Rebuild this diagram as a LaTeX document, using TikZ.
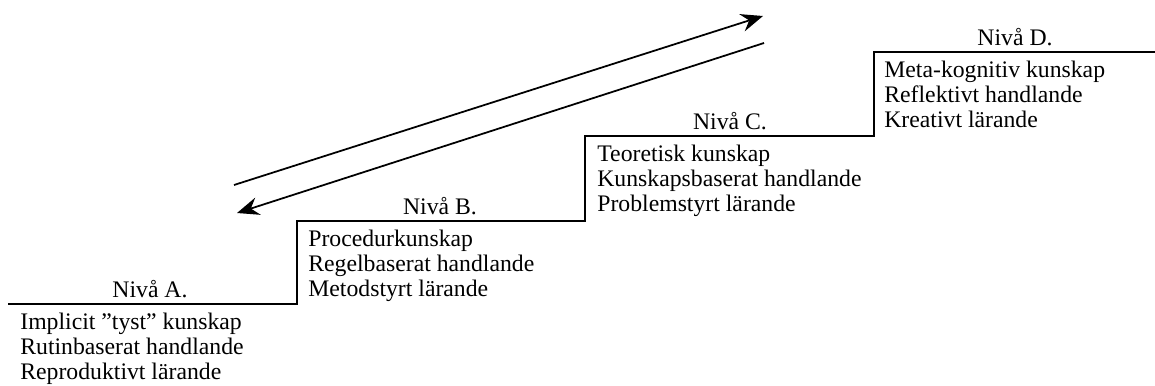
\documentclass[tikz,border=0pt]{standalone}
\usepackage{fontspec}
\setmainfont{Liberation Serif}
\usetikzlibrary{arrows.meta}

\begin{document}
\begin{tikzpicture}[niva/.style={anchor=base,inner sep=0pt,font=\fontsize{13.5}{14}\selectfont},
  rad/.style={anchor=base west,align=left,inner sep=0pt,font=\fontsize{13.5}{14.2}\selectfont},
  pil/.style={line width=1pt,-{Stealth[length=4.4mm,width=3.6mm,inset=1.5mm]}}]
\useasboundingbox (0,0) rectangle (23.1,7.7);
\coordinate (a0) at (0.16,1.62);
\coordinate (a1) at (5.94,1.62);
\coordinate (b0) at (5.94,3.28);
\coordinate (b1) at (11.70,3.28);
\coordinate (c0) at (11.70,4.98);
\coordinate (c1) at (17.48,4.98);
\coordinate (d0) at (17.48,6.66);
\coordinate (d1) at (23.1,6.66);

\draw[line width=1pt] (a0)--(a1)--(b0)--(b1)--(c0)--(c1)--(d0)--(d1);

\node[niva] (na) at (3.0,1.76) {Nivå A.};
\node[niva] (nb) at (8.8,3.42) {Nivå B.};
\node[niva] (nc) at (14.6,5.12) {Nivå C.};
\node[niva] (nd) at (20.3,6.80) {Nivå D.};

\node[rad] (ra) at (0.40,0.12) {Implicit ”tyst” kunskap\\Rutinbaserat handlande\\Reproduktivt lärande};
\node[rad] (rb) at (6.16,1.78) {Procedurkunskap\\Regelbaserat handlande\\Metodstyrt lärande};
\node[rad] (rc) at (11.94,3.48) {Teoretisk kunskap\\Kunskapsbaserat handlande\\Problemstyrt lärande};
\node[rad] (rd) at (17.68,5.16) {Meta-kognitiv kunskap\\Reflektivt handlande\\Kreativt lärande};

% pilar upp och ner
\coordinate (p0) at (4.68,4.00);
\coordinate (p1) at (15.26,7.38);
\coordinate (q0) at (15.28,6.84);
\coordinate (q1) at (4.74,3.44);
\draw[pil] (p0)--(p1);
\draw[pil] (q0)--(q1);
\end{tikzpicture}
\end{document}
